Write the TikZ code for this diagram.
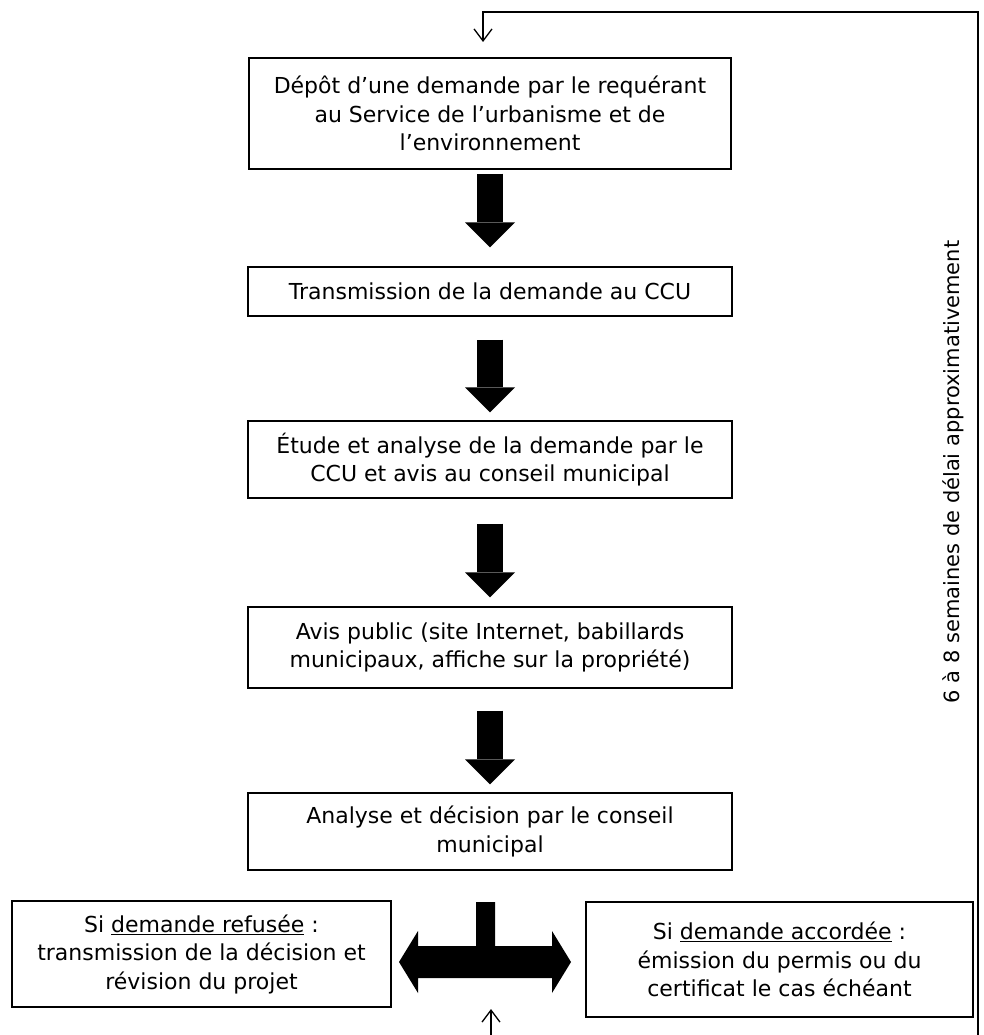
\documentclass[tikz,border=0pt]{standalone}
\usepackage{fontspec}
\setmainfont{DejaVu Sans}
\usetikzlibrary{arrows.meta}

\begin{document}
\begin{tikzpicture}[
        x=1pt, y=-1pt,
        box/.style={draw, line width=1.3pt, align=center, inner sep=0pt,
          font=\fontsize{22}{28.5}\selectfont},
        bigarrow/.style={line width=26pt,
          -{Triangle[width=50pt,length=25pt,line width=0pt]}},
        fleche/.style={line width=1.3pt,
          -{Straight Barb[length=12pt,width=18pt]}}
      ]
        % 画布范围
        \useasboundingbox (0,0) rectangle (984,1035);
        % 定义各方框
        \node[box, minimum width=482, minimum height=111] (depot) at (490,113.5)
          {Dépôt d’une demande par le requérant\\au Service de l’urbanisme et de\\l’environnement};
        \node[box, minimum width=484, minimum height=49] (transmission) at (490,291.5)
          {Transmission de la demande au CCU};
        \node[box, minimum width=484, minimum height=77] (etude) at (490,459.5)
          {Étude et analyse de la demande par le\\CCU et avis au conseil municipal};
        \node[box, minimum width=484, minimum height=81] (avis) at (490,647.5)
          {Avis public (site Internet, babillards\\municipaux, affiche sur la propriété)};
        \node[box, minimum width=484, minimum height=77] (decision) at (490,831.5)
          {Analyse et décision par le conseil\\municipal};
        \node[box, minimum width=379, minimum height=106] (refus) at (201.5,954)
          {Si \underline{demande refusée} :\\transmission de la décision et\\révision du projet};
        \node[box, minimum width=387, minimum height=115] (accord) at (779.5,959.5)
          {Si \underline{demande accordée} :\\émission du permis ou du\\certificat le cas échéant};
        % 绘制粗箭头
        \foreach \a/\b/\s/\e in {depot/transmission/4/19, transmission/etude/23/8,
                                 etude/avis/25/9, avis/decision/22/8}
          \draw[bigarrow] ([yshift=-\s]\a.south) -- ([yshift=\e]\b.north);
        % 双向T形箭头
        \fill (476,902) -- (495,902) -- (495,946) -- (552,946) -- (552,931)
          -- (571,962) -- (552,993) -- (552,978) -- (418,978) -- (418,993)
          -- (399,962) -- (418,931) -- (418,946) -- (476,946) -- cycle;
        % 回路线
        \coordinate (bas) at (978,1035);
        \coordinate (coin) at (978,12);
        \coordinate (haut) at (483,12);
        \coordinate (pointe) at (483,42);
        \draw[fleche] (bas) -- (coin) -- (haut) -- (pointe);
        \coordinate (retour) at (491,1035);
        \coordinate (arrivee) at (491,1009);
        \draw[fleche] (retour) -- (arrivee);
        % 竖排文字
        \node[rotate=90, font=\fontsize{21}{24}\selectfont] (delai) at (953,472)
          {6 à 8 semaines de délai approximativement};
      \end{tikzpicture}
\end{document}
